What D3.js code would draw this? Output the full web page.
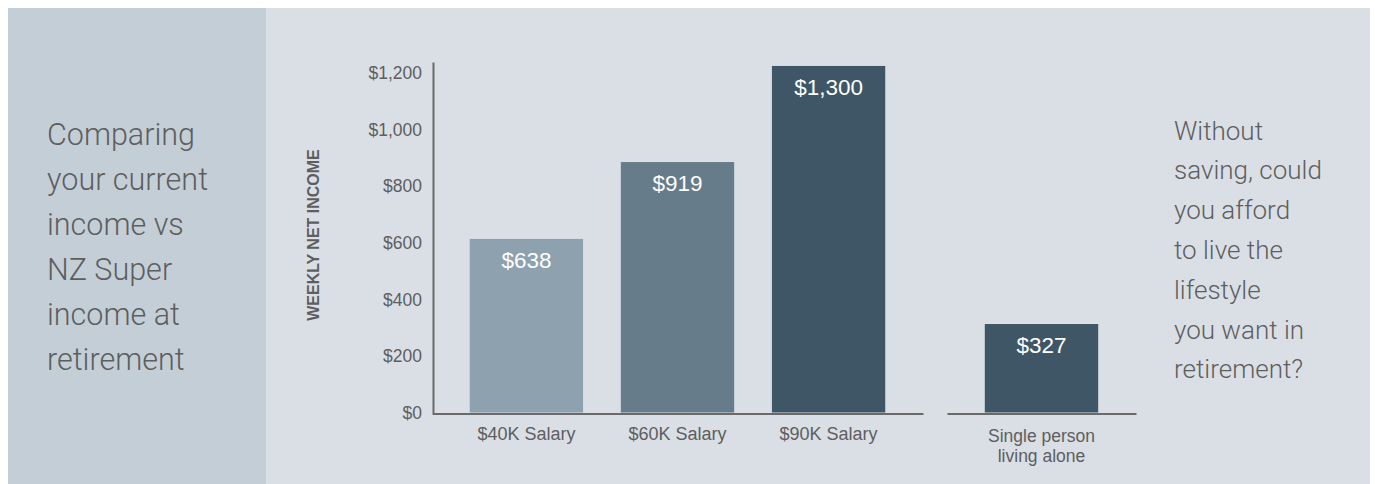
<!DOCTYPE html>
<html>
<head>
<meta charset="utf-8">
<script src="https://cdn.jsdelivr.net/npm/d3@7"></script>
<style>
  html, body { margin: 0; padding: 0; background: #ffffff; }
  svg { display: block; }
</style>
</head>
<body>
<svg id="chart" width="1375" height="484"></svg>
<script>
// ---- data ----
const salaryCategories = ["$40K Salary", "$60K Salary", "$90K Salary"];
const salaryHeights = [614, 886, 1226];          // bar heights as drawn
const salaryLabels = ["$638", "$919", "$1,300"];  // printed values
const superCategories = ["Single person living alone"];
const superHeights = [313];
const superLabels = ["$327"];
const yTicks = [0, 200, 400, 600, 800, 1000, 1200];
const titleLines = ["Comparing", "your current", "income vs", "NZ Super", "income at", "retirement"];
const questionLines = ["Without", "saving, could", "you afford", "to live the", "lifestyle", "you want in", "retirement?"];
const salaryColors = ["#8ea1ae", "#667c8a", "#3f5666"];
const superColor = "#3f5666";

const svg = d3.select("#chart");
const textColor = "#5e5e5e";
const axisColor = "#6a6a6a";
const labelFont = "'Liberation Sans', Arial, sans-serif";
const lightFont = "Roboto, 'Open Sans', sans-serif";

// backgrounds
svg.append("rect").attr("x", 8).attr("y", 8).attr("width", 1362).attr("height", 476).attr("fill", "#d9dfe5");
svg.append("rect").attr("x", 8).attr("y", 8).attr("width", 258).attr("height", 476).attr("fill", "#c4ced7");

// left title
const t = svg.append("text").attr("x", 47).attr("font-family", lightFont).attr("font-weight", 300)
  .attr("font-size", 30.5).attr("fill", textColor);
titleLines.forEach((s, i) => t.append("tspan").attr("x", 47).attr("y", 145 + i * 45).text(s));

// right question
const q = svg.append("text").attr("x", 1174).attr("font-family", lightFont).attr("font-weight", 300)
  .attr("font-size", 26).attr("fill", textColor);
questionLines.forEach((s, i) => q.append("tspan").attr("x", 1174).attr("y", 139.5 + i * 39.8).text(s));

// scales
const y = d3.scaleLinear().domain([0, 1240]).range([412.5, 62]);
const x1 = d3.scaleBand().domain(salaryCategories).range([432, 923]).paddingInner(0.25).paddingOuter(0.25);
const x2 = d3.scaleBand().domain(superCategories).range([947, 1136]).paddingInner(0.25).paddingOuter(0.25);

// y axis
const yAxis = d3.axisLeft(y).tickValues(yTicks).tickSize(0).tickPadding(11)
  .tickFormat(d => "$" + d3.format(",")(d));
const gy = svg.append("g").attr("transform", "translate(433,0)").call(yAxis);
gy.select(".domain").attr("stroke", axisColor).attr("stroke-width", 2);
gy.selectAll("text").attr("font-family", labelFont).attr("font-size", 17.5).attr("fill", textColor);

// y axis title
svg.append("text").attr("transform", "translate(319,235) rotate(-90)")
  .attr("text-anchor", "middle").attr("font-family", labelFont).attr("font-weight", "bold")
  .attr("font-size", 16).attr("fill", textColor).text("WEEKLY NET INCOME");

// bars group 1
const data1 = salaryCategories.map((c, i) => ({c, v: salaryHeights[i], l: salaryLabels[i], col: salaryColors[i]}));
svg.append("g").selectAll("rect").data(data1).join("rect")
  .attr("x", d => x1(d.c)).attr("width", x1.bandwidth())
  .attr("y", d => y(d.v)).attr("height", d => y(0) - y(d.v)).attr("fill", d => d.col);
svg.append("g").selectAll("text").data(data1).join("text")
  .attr("x", d => x1(d.c) + x1.bandwidth() / 2).attr("y", d => y(d.v) + 29)
  .attr("text-anchor", "middle").attr("font-family", labelFont).attr("font-size", 22.5)
  .attr("fill", "#ffffff").text(d => d.l);

// bars group 2
const data2 = superCategories.map((c, i) => ({c, v: superHeights[i], l: superLabels[i]}));
svg.append("g").selectAll("rect").data(data2).join("rect")
  .attr("x", d => x2(d.c)).attr("width", x2.bandwidth())
  .attr("y", d => y(d.v)).attr("height", d => y(0) - y(d.v)).attr("fill", superColor);
svg.append("g").selectAll("text").data(data2).join("text")
  .attr("x", d => x2(d.c) + x2.bandwidth() / 2).attr("y", d => y(d.v) + 29)
  .attr("text-anchor", "middle").attr("font-family", labelFont).attr("font-size", 22.5)
  .attr("fill", "#ffffff").text(d => d.l);

// x axes (baselines)
const xAxis1 = d3.axisBottom(x1).tickSize(0).tickPadding(14);
const gx1 = svg.append("g").attr("transform", "translate(0,413.5)").call(xAxis1);
gx1.select(".domain").attr("stroke", axisColor).attr("stroke-width", 2);
gx1.selectAll("text").attr("font-family", labelFont).attr("font-size", 18).attr("fill", textColor);

const xAxis2 = d3.axisBottom(x2).tickSize(0).tickPadding(16);
const gx2 = svg.append("g").attr("transform", "translate(0,413.5)").call(xAxis2);
gx2.select(".domain").attr("stroke", axisColor).attr("stroke-width", 2);
gx2.selectAll("text").attr("font-family", labelFont).attr("font-size", 17.5).attr("fill", textColor)
  .text(null)
  .each(function(d) {
    const el = d3.select(this);
    const words = ["Single person", "living alone"];
    words.forEach((w, i) => el.append("tspan").attr("x", 0).attr("dy", i === 0 ? "0.71em" : "1.17em").text(w));
  });
gx2.selectAll("text").attr("dy", null);
</script>
</body>
</html>
